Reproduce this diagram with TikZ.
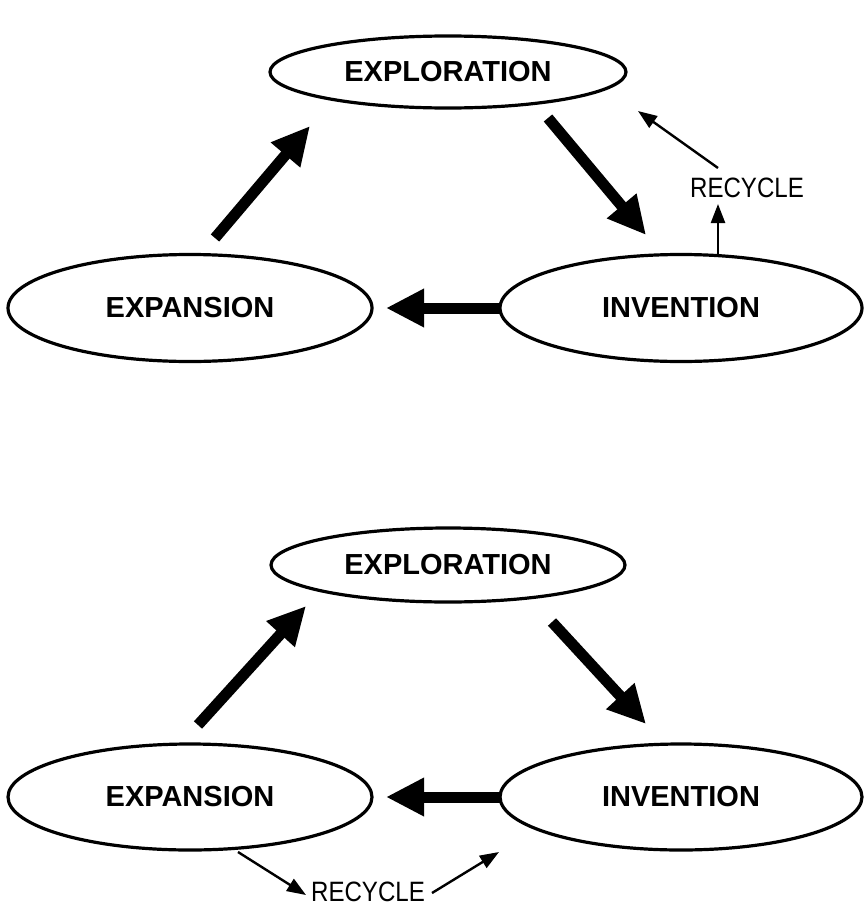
\documentclass[tikz,border=0pt]{standalone}
\usepackage{fontspec}
\setmainfont{Liberation Sans}
\usetikzlibrary{shapes.geometric,arrows.meta}
\tikzset{
  ell/.style={draw, ellipse, line width=3.2pt, inner sep=0pt, font=\bfseries\fontsize{29}{29}\selectfont},
  bigarrow/.style={line width=11pt, -{Triangle[length=38pt,width=36pt]}},
  thinarrow/.style={line width=2.4pt, -{Triangle[length=19pt,width=14pt]}},
  rec/.style={font=\fontsize{28}{28}\selectfont, xscale=0.86, inner sep=0pt}
}
\begin{document}
\begin{tikzpicture}[x=1pt,y=-1pt]
\useasboundingbox (0,0) rectangle (864,918);
% top diagram
\node[ell, minimum width=356pt, minimum height=72pt] (xplT) at (448,72) {EXPLORATION};
\node[ell, minimum width=364pt, minimum height=107pt] (expT) at (190,308) {EXPANSION};
\node[ell, minimum width=362pt, minimum height=107pt] (invT) at (681,308) {INVENTION};
\coordinate (a1s) at (215,238); \coordinate (a1e) at (310,126);
\coordinate (a2s) at (548,118); \coordinate (a2e) at (646,235);
\coordinate (a3s) at (500,308); \coordinate (a3e) at (386,308);
\draw[bigarrow] (a1s) -- (a1e);
\draw[bigarrow] (a2s) -- (a2e);
\draw[bigarrow] (a3s) -- (a3e);
\node[rec] (recT) at (747,188) {RECYCLE};
\coordinate (r1s) at (718,254); \coordinate (r1e) at (718,204);
\coordinate (r2s) at (718,168); \coordinate (r2e) at (638,111);
\draw[thinarrow] (r1s) -- (r1e);
\draw[thinarrow] (r2s) -- (r2e);
% bottom diagram
\node[ell, minimum width=354pt, minimum height=74pt] (xplB) at (448,565) {EXPLORATION};
\node[ell, minimum width=364pt, minimum height=106pt] (expB) at (190,797) {EXPANSION};
\node[ell, minimum width=362pt, minimum height=106pt] (invB) at (681,797) {INVENTION};
\coordinate (b1s) at (198,725); \coordinate (b1e) at (306,606);
\coordinate (b2s) at (552,622); \coordinate (b2e) at (646,724);
\coordinate (b3s) at (500,797); \coordinate (b3e) at (386,797);
\draw[bigarrow] (b1s) -- (b1e);
\draw[bigarrow] (b2s) -- (b2e);
\draw[bigarrow] (b3s) -- (b3e);
\node[rec] (recB) at (368,892) {RECYCLE};
\coordinate (q1s) at (238,852); \coordinate (q1e) at (306,895);
\coordinate (q2s) at (432,893); \coordinate (q2e) at (499,852);
\draw[thinarrow] (q1s) -- (q1e);
\draw[thinarrow] (q2s) -- (q2e);
\end{tikzpicture}
\end{document}
